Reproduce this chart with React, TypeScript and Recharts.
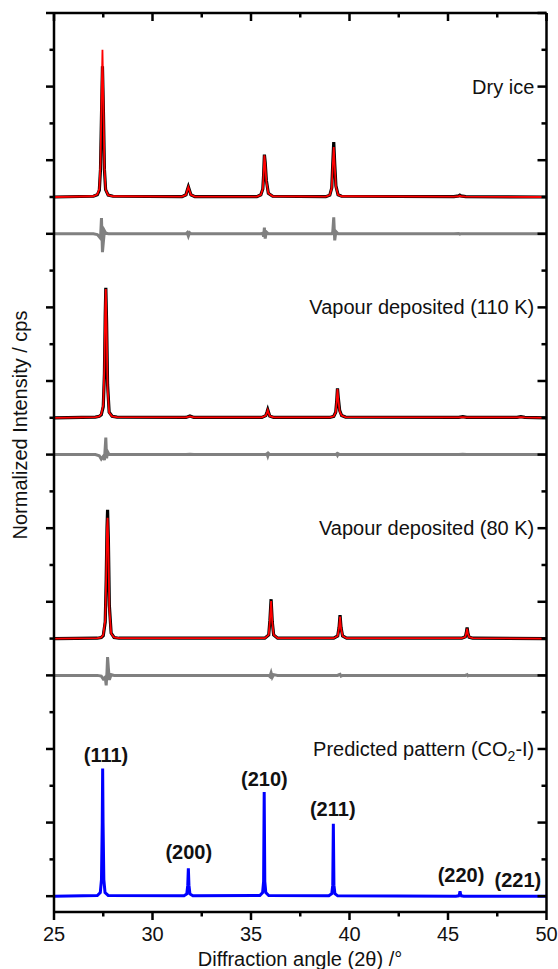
import { Line, LineChart, ReferenceDot, XAxis, YAxis } from 'recharts'

// 2θ sampling of each pattern, denser around the reflections
const dryIceAngles = [
  25, 27.0, 27.2, 27.3, 27.36, 27.41, 27.46, 27.51, 27.56, 27.62, 27.75, 28.0,
  31.5, 31.7, 31.76, 31.82, 31.88, 31.95, 32.15,
  35.3, 35.5, 35.6, 35.64, 35.68, 35.72, 35.78, 35.88, 36.1,
  38.8, 39.0, 39.1, 39.15, 39.2, 39.25, 39.31, 39.42, 39.6,
  45.3, 45.55, 45.6, 45.65, 45.9,
  50,
]
const dryIceObserved = [
  0.0, 0.02, 0.06, 0.18, 0.75, 2.2, 3.55, 2.3, 0.75, 0.2, 0.05, 0.02,
  0.01, 0.06, 0.18, 0.28, 0.18, 0.06, 0.01,
  0.01, 0.06, 0.22, 0.6, 1.15, 0.95, 0.45, 0.1, 0.02,
  0.01, 0.05, 0.25, 0.9, 1.49, 0.9, 0.3, 0.06, 0.02,
  0.01, 0.03, 0.05, 0.03, 0.01,
  0.0,
]
const dryIceCalculated = [
  0.0, 0.02, 0.07, 0.22, 0.9, 2.6, 4.0, 2.5, 0.8, 0.2, 0.05, 0.02,
  0.01, 0.06, 0.17, 0.27, 0.17, 0.06, 0.01,
  0.01, 0.06, 0.22, 0.62, 1.13, 0.9, 0.42, 0.1, 0.02,
  0.01, 0.05, 0.25, 0.85, 1.36, 0.85, 0.28, 0.06, 0.02,
  0.01, 0.02, 0.04, 0.02, 0.01,
  0.0,
]
const dryIceDifference = [
  0.0, 0.0, -0.02, -0.08, -0.12, 0.43, -0.5, -0.2, 0.08, 0.02, 0.0, 0.0,
  0.0, 0.0, 0.03, -0.06, 0.03, 0.0, 0.0,
  0.0, 0.0, 0.02, -0.08, 0.17, -0.13, 0.05, 0.0, 0.0,
  0.0, 0.0, 0.0, 0.05, 0.45, -0.18, 0.06, 0.0, 0.0,
  0.0, 0.01, -0.01, 0.0, 0.0,
  0.0,
]

const vd110Angles = [
  25, 27.1, 27.3, 27.4, 27.5, 27.56, 27.6, 27.63, 27.67, 27.72, 27.8, 27.95, 28.2,
  31.7, 31.9, 32.1,
  35.55, 35.75, 35.81, 35.85, 35.89, 35.95, 36.15,
  39.0, 39.2, 39.3, 39.35, 39.39, 39.43, 39.5, 39.6, 39.8,
  45.55, 45.75, 45.95,
  48.5, 48.7, 48.9,
  50,
]
const vd110Observed = [
  0.0, 0.02, 0.04, 0.08, 0.3, 1.2, 2.8, 3.53, 2.6, 0.9, 0.15, 0.04, 0.02,
  0.01, 0.05, 0.01,
  0.01, 0.06, 0.15, 0.22, 0.15, 0.05, 0.01,
  0.01, 0.04, 0.15, 0.45, 0.8, 0.55, 0.2, 0.06, 0.02,
  0.01, 0.03, 0.01,
  0.01, 0.03, 0.01,
  0.0,
]
const vd110Calculated = [
  0.0, 0.02, 0.04, 0.1, 0.35, 1.4, 3.0, 3.5, 2.5, 0.8, 0.14, 0.04, 0.02,
  0.01, 0.04, 0.01,
  0.01, 0.06, 0.14, 0.21, 0.14, 0.05, 0.01,
  0.01, 0.04, 0.15, 0.45, 0.78, 0.5, 0.18, 0.06, 0.02,
  0.01, 0.02, 0.01,
  0.01, 0.02, 0.01,
  0.0,
]
const vd110Difference = [
  0.0, 0.0, -0.03, -0.12, -0.05, -0.15, 0.2, 0.46, -0.1, 0.08, 0.0, 0.0, 0.0,
  0.0, 0.01, 0.0,
  0.0, 0.0, 0.02, -0.04, 0.03, 0.0, 0.0,
  0.0, 0.0, 0.0, 0.02, -0.02, 0.02, 0.0, 0.0, 0.0,
  0.0, 0.01, 0.0,
  0.0, 0.0, 0.0,
  0.0,
]

const vd80Angles = [
  25, 27.2, 27.4, 27.5, 27.6, 27.65, 27.69, 27.72, 27.76, 27.81, 27.9, 28.05, 28.3,
  35.7, 35.9, 35.96, 36.02, 36.08, 36.15, 36.35,
  39.2, 39.4, 39.47, 39.52, 39.57, 39.65, 39.85,
  45.7, 45.88, 45.93, 45.97, 46.01, 46.07, 46.25,
  50,
]
const vd80Observed = [
  0.0, 0.01, 0.03, 0.08, 0.45, 1.6, 3.0, 3.5, 2.7, 0.9, 0.15, 0.03, 0.01,
  0.01, 0.1, 0.5, 1.07, 0.45, 0.1, 0.01,
  0.01, 0.07, 0.3, 0.64, 0.3, 0.07, 0.01,
  0.01, 0.05, 0.16, 0.3, 0.15, 0.04, 0.01,
  0.0,
]
const vd80Calculated = [
  0.0, 0.01, 0.03, 0.1, 0.5, 1.7, 3.0, 3.28, 2.5, 0.8, 0.14, 0.03, 0.01,
  0.01, 0.1, 0.5, 1.02, 0.45, 0.1, 0.01,
  0.01, 0.07, 0.3, 0.6, 0.28, 0.07, 0.01,
  0.01, 0.05, 0.15, 0.27, 0.14, 0.04, 0.01,
  0.0,
]
const vd80Difference = [
  0.0, 0.0, -0.02, -0.1, -0.05, -0.27, 0.1, 0.5, 0.2, -0.12, 0.02, 0.0, 0.0,
  0.0, 0.0, -0.03, 0.07, -0.05, 0.02, 0.0,
  0.0, 0.0, 0.02, 0.03, -0.02, 0.0, 0.0,
  0.0, 0.0, 0.01, 0.02, -0.01, 0.0, 0.0,
  0.0,
]

const predictedAngles = [
  25, 27.2, 27.35, 27.41, 27.45, 27.47, 27.49, 27.53, 27.59, 27.75,
  31.6, 31.74, 31.79, 31.82, 31.85, 31.9, 32.05,
  35.45, 35.59, 35.64, 35.67, 35.7, 35.75, 35.9,
  38.95, 39.1, 39.15, 39.18, 39.21, 39.26, 39.4,
  45.4, 45.54, 45.58, 45.61, 45.64, 45.68, 45.8,
  50,
]
const predictedIntensity = [
  0.0, 0.02, 0.1, 0.45, 2.0, 3.47, 2.0, 0.45, 0.1, 0.02,
  0.01, 0.06, 0.3, 0.76, 0.3, 0.06, 0.01,
  0.02, 0.1, 0.4, 2.83, 0.4, 0.1, 0.02,
  0.01, 0.07, 0.3, 1.97, 0.3, 0.07, 0.01,
  0.0, 0.01, 0.05, 0.13, 0.05, 0.01, 0.0,
  0.0,
]

// vertical stacking offsets (normalized units)
const dryIceOffset = 19
const vd110Offset = 13
const vd80Offset = 7
const differenceGap = 1

const sampleNames = ['Dry ice', 'Vapour deposited (110 K)', 'Vapour deposited (80 K)']
const sampleLabelLevels = [22, 16, 10]

const reflections = ['(111)', '(200)', '(210)', '(211)', '(220)', '(221)']
const reflectionAngles = [27.64, 31.84, 35.68, 39.15, 45.66, 48.55]
const reflectionLabelLevels = [3.83, 1.19, 3.18, 2.36, 0.57, 0.43]

const xTicks = [25, 27.5, 30, 32.5, 35, 37.5, 40, 42.5, 45, 47.5, 50]
const yTicks = Array.from({ length: 25 }, (_, i) => i)

const FONT = '"Liberation Sans", Arial, sans-serif'

const toRows = (angles: number[], values: number[], offset: number) =>
  angles.map((angle, i) => ({ angle, intensity: values[i] + offset }))

const BottomTick = ({ x, y, payload }: any) => {
  const major = payload.value % 5 === 0
  return (
    <g>
      <line x1={x} x2={x} y1={y} y2={y + (major ? 8 : 4.5)} stroke='#000' strokeWidth={2.5} />
      {major && (
        <text x={x} y={y + 29} textAnchor='middle' fontSize={20} fontFamily={FONT} fill='#111'>
          {payload.value}
        </text>
      )}
    </g>
  )
}

const TopTick = ({ x, y, payload }: any) => {
  const major = payload.value % 5 === 0
  return <line x1={x} x2={x} y1={y} y2={y + (major ? 8 : 4.5)} stroke='#000' strokeWidth={2.5} />
}

const LeftTick = ({ x, y, payload }: any) => {
  const major = payload.value % 2 === 0
  return <line x1={x - (major ? 8 : 4.5)} x2={x} y1={y} y2={y} stroke='#000' strokeWidth={2.5} />
}

const RightTick = ({ x, y, payload }: any) => {
  const major = payload.value % 2 === 0
  return <line x1={x - (major ? 9 : 5)} x2={x} y1={y} y2={y} stroke='#000' strokeWidth={2.5} />
}

const YTitle = () => (
  <text
    x={27}
    y={425}
    transform='rotate(-90 27 425)'
    textAnchor='middle'
    fontSize={20}
    fontFamily={FONT}
    fill='#111'
  >
    Normalized Intensity / cps
  </text>
)

const XTitle = () => (
  <text x={300} y={966} textAnchor='middle' fontSize={20} fontFamily={FONT} fill='#111'>
    Diffraction angle (2θ) /°
  </text>
)

const axisLine = { stroke: '#000', strokeWidth: 2.5 }

export default function App() {
  const dryObs = toRows(dryIceAngles, dryIceObserved, dryIceOffset)
  const dryCalc = toRows(dryIceAngles, dryIceCalculated, dryIceOffset)
  const dryDiff = toRows(dryIceAngles, dryIceDifference, dryIceOffset - differenceGap)
  const v110Obs = toRows(vd110Angles, vd110Observed, vd110Offset)
  const v110Calc = toRows(vd110Angles, vd110Calculated, vd110Offset)
  const v110Diff = toRows(vd110Angles, vd110Difference, vd110Offset - differenceGap)
  const v80Obs = toRows(vd80Angles, vd80Observed, vd80Offset)
  const v80Calc = toRows(vd80Angles, vd80Calculated, vd80Offset)
  const v80Diff = toRows(vd80Angles, vd80Difference, vd80Offset - differenceGap)
  const predicted = toRows(predictedAngles, predictedIntensity, 0)

  const obsLine = { stroke: '#000', strokeWidth: 3.2 }
  const calcLine = { stroke: '#ff0000', strokeWidth: 1.8 }
  const diffLine = { stroke: '#808080', strokeWidth: 3 }

  return (
    <div style={{ position: 'absolute', left: 0, top: 0 }}>
      <LineChart width={558} height={969} margin={{ top: 0, right: 0, bottom: 0, left: 0 }}>
        <XAxis
          dataKey='angle'
          type='number'
          domain={[25, 50]}
          ticks={xTicks}
          interval={0}
          tick={(p: any) => <BottomTick {...p} />}
          tickLine={false}
          tickSize={0}
          tickMargin={0}
          axisLine={axisLine}
          height={57}
          allowDataOverflow
          label={<XTitle />}
        />
        <XAxis
          xAxisId='top'
          orientation='top'
          dataKey='angle'
          type='number'
          domain={[25, 50]}
          ticks={xTicks}
          interval={0}
          tick={(p: any) => <TopTick {...p} />}
          tickLine={false}
          tickSize={0}
          tickMargin={0}
          axisLine={axisLine}
          height={13}
          allowDataOverflow
        />
        <YAxis
          yAxisId='left'
          type='number'
          domain={[-0.43, 24]}
          ticks={yTicks}
          interval={0}
          tick={(p: any) => <LeftTick {...p} />}
          tickLine={false}
          tickSize={0}
          tickMargin={0}
          axisLine={axisLine}
          width={54}
          allowDataOverflow
          label={<YTitle />}
        />
        <YAxis
          yAxisId='right'
          orientation='right'
          type='number'
          domain={[-0.43, 24]}
          ticks={yTicks}
          interval={0}
          tick={(p: any) => <RightTick {...p} />}
          tickLine={false}
          tickSize={0}
          tickMargin={0}
          axisLine={axisLine}
          width={11.5}
          allowDataOverflow
        />

        <Line yAxisId='left' data={dryDiff} dataKey='intensity' type='linear' dot={false} isAnimationActive={false} {...diffLine} />
        <Line yAxisId='left' data={dryObs} dataKey='intensity' type='linear' dot={false} isAnimationActive={false} {...obsLine} />
        <Line yAxisId='left' data={dryCalc} dataKey='intensity' type='linear' dot={false} isAnimationActive={false} {...calcLine} />

        <Line yAxisId='left' data={v110Diff} dataKey='intensity' type='linear' dot={false} isAnimationActive={false} {...diffLine} />
        <Line yAxisId='left' data={v110Obs} dataKey='intensity' type='linear' dot={false} isAnimationActive={false} {...obsLine} />
        <Line yAxisId='left' data={v110Calc} dataKey='intensity' type='linear' dot={false} isAnimationActive={false} {...calcLine} />

        <Line yAxisId='left' data={v80Diff} dataKey='intensity' type='linear' dot={false} isAnimationActive={false} {...diffLine} />
        <Line yAxisId='left' data={v80Obs} dataKey='intensity' type='linear' dot={false} isAnimationActive={false} {...obsLine} />
        <Line yAxisId='left' data={v80Calc} dataKey='intensity' type='linear' dot={false} isAnimationActive={false} {...calcLine} />

        <Line yAxisId='left' data={predicted} dataKey='intensity' type='linear' dot={false} isAnimationActive={false} stroke='#0000ff' strokeWidth={3} />

        {sampleNames.map((name, i) => (
          <ReferenceDot
            key={name}
            yAxisId='left'
            x={49.38}
            y={sampleLabelLevels[i]}
            r={0}
            shape={(p: any) => (
              <text x={p.cx} y={p.cy + 7} textAnchor='end' fontSize={20} fontFamily={FONT} fill='#111'>
                {name}
              </text>
            )}
          />
        ))}
        <ReferenceDot
          yAxisId='left'
          x={49.38}
          y={4}
          r={0}
          shape={(p: any) => (
            <text x={p.cx} y={p.cy + 7} textAnchor='end' fontSize={20} fontFamily={FONT} fill='#111'>
              Predicted pattern (CO
              <tspan fontSize={14} dy={5}>2</tspan>
              <tspan dy={-5}>-I)</tspan>
            </text>
          )}
        />
        {reflections.map((hkl, i) => (
          <ReferenceDot
            key={hkl}
            yAxisId='left'
            x={reflectionAngles[i]}
            y={reflectionLabelLevels[i]}
            r={0}
            shape={(p: any) => (
              <text
                x={p.cx}
                y={p.cy + 7}
                textAnchor='middle'
                fontSize={20}
                fontWeight='bold'
                fontFamily={FONT}
                fill='#111'
              >
                {hkl}
              </text>
            )}
          />
        ))}
      </LineChart>
    </div>
  )
}
